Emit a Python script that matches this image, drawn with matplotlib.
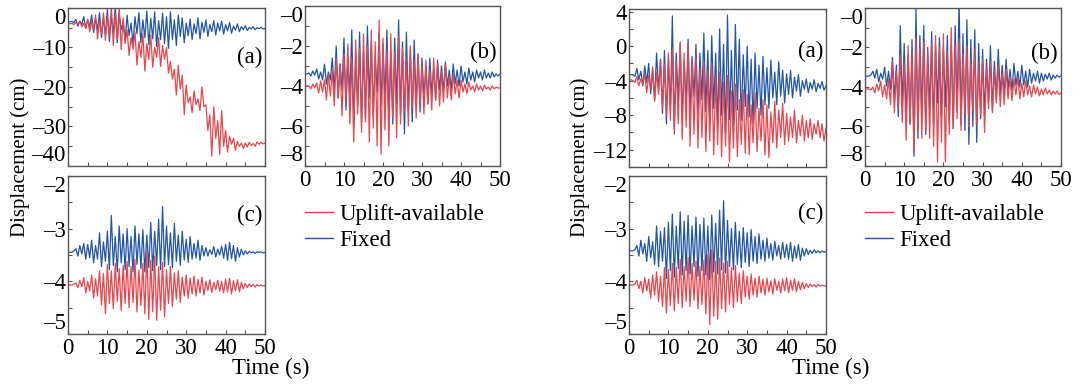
import numpy as np
import matplotlib
matplotlib.use("Agg")
import matplotlib.pyplot as plt
from matplotlib.ticker import MultipleLocator
from matplotlib.lines import Line2D

plt.rcParams['font.family'] = ['Liberation Serif', 'DejaVu Serif']
plt.rcParams['axes.unicode_minus'] = False
plt.rcParams['font.size'] = 16.5

# ---------------- data ----------------
TIME = np.arange(0, 50.25, 0.5)  # sampling grid (s)

SERIES_LABELS = ["Uplift-available", "Fixed"]

# Left group, panel (a)
LA_FIXED = [-3.5,-3.5,-3.4,-3.7,-2.9,-4.6,-3.3,-4.2,-2.2,-5.0,
            -3.0,-4.8,-1.8,-6.2,-2.8,-5.5,-1.2,-7.5,-2.5,-6.8,
            -0.3,-8.5,-2.0,-6.5,0.2,-8.8,-1.5,-5.5,-3.5,-8.2,
            -1.8,-7.0,-3.8,-9.2,-2.2,-6.5,-1.2,-8.8,-3.0,-7.5,
            -0.8,-9.3,-2.6,-7.8,-1.0,-9.8,-3.2,-8.0,-1.3,-9.0,
            -2.2,-10.2,-1.0,-8.0,-3.0,-9.5,-1.8,-7.2,-2.5,-8.8,
            -3.8,-7.0,-2.8,-8.0,-4.0,-6.5,-2.5,-7.8,-3.6,-6.2,
            -3.0,-7.2,-4.2,-6.0,-3.2,-6.8,-3.8,-5.8,-3.3,-6.6,
            -4.2,-5.8,-3.7,-6.4,-4.6,-5.6,-4.0,-6.0,-4.7,-5.5,
            -4.5,-5.7,-4.9,-5.3,-4.7,-5.5,-5.0,-5.2,-4.9,-5.3,
            -5.2]
LA_UPLIFT = [-4.0,-4.0,-3.9,-4.2,-3.7,-4.1,-3.4,-4.8,-3.9,-5.2,
             -2.8,-6.0,-3.5,-5.2,-1.8,-7.8,-3.2,-6.5,-1.2,-8.2,
             -2.0,-7.0,0.5,-9.5,-1.5,-8.0,0.3,-10.5,-2.5,-9.0,
             -5.5,-12.0,-7.5,-10.5,-6.0,-14.5,-8.5,-12.5,-6.5,-16.0,
             -9.0,-13.0,-6.8,-15.0,-10.0,-12.5,-7.5,-14.8,-9.5,-13.0,
             -10.0,-16.5,-13.5,-18.0,-15.5,-22.0,-14.5,-20.5,-17.0,-27.0,
             -19.5,-24.0,-22.5,-26.5,-21.0,-24.5,-23.0,-26.0,-20.0,-25.0,
             -24.5,-31.0,-27.0,-37.5,-25.0,-33.0,-28.5,-37.0,-26.0,-35.0,
             -31.0,-36.5,-32.5,-34.5,-33.0,-36.0,-33.8,-35.0,-34.2,-35.6,
             -34.2,-35.2,-34.0,-34.8,-34.3,-35.0,-33.9,-34.5,-34.0,-34.4,
             -34.2]

# Left group, panel (b)
LB_FIXED = [-3.4,-3.4,-3.35,-3.5,-3.25,-3.45,-3.15,-3.65,-3.3,-3.7,
            -2.9,-3.9,-3.3,-3.7,-2.6,-4.3,-2.0,-4.6,-2.9,-4.2,
            -1.6,-5.2,-2.6,-4.5,-1.2,-6.0,-2.4,-5.0,-1.3,-5.8,
            -2.2,-5.6,-1.0,-4.6,-1.8,-5.4,-2.5,-4.3,-1.4,-5.0,
            -1.9,-4.8,-1.2,-5.6,-2.4,-5.9,-1.6,-4.9,-0.7,-5.4,
            -1.8,-6.4,-1.3,-5.2,-2.2,-5.8,-1.7,-5.0,-2.4,-5.3,
            -2.6,-4.6,-3.0,-4.9,-2.6,-4.4,-3.1,-4.7,-2.7,-4.2,
            -3.0,-4.3,-2.8,-4.0,-3.2,-4.2,-2.9,-3.9,-3.2,-4.0,
            -3.0,-3.8,-3.3,-3.9,-3.1,-3.7,-3.3,-3.8,-3.2,-3.6,
            -3.3,-3.7,-3.2,-3.6,-3.35,-3.6,-3.3,-3.55,-3.4,-3.5,
            -3.4]
LB_UPLIFT = [-4.0,-4.0,-4.0,-4.15,-3.9,-4.1,-3.85,-4.35,-3.75,-4.3,
             -3.7,-4.7,-3.4,-4.5,-3.2,-5.0,-2.6,-4.6,-2.9,-5.5,
             -2.4,-4.8,-1.9,-5.9,-2.6,-6.8,-1.7,-5.4,-2.1,-6.3,
             -1.4,-5.8,-2.0,-6.8,-1.2,-6.1,-1.8,-7.0,-0.7,-7.4,
             -1.6,-6.2,-2.2,-7.0,-1.4,-5.6,-2.3,-6.6,-1.5,-5.9,
             -2.1,-5.3,-2.6,-6.0,-2.0,-5.1,-2.7,-5.6,-2.4,-5.0,
             -3.0,-5.4,-2.7,-4.9,-3.2,-5.2,-2.6,-4.7,-2.9,-5.0,
             -3.3,-4.8,-2.9,-4.6,-3.5,-4.7,-3.4,-4.4,-3.7,-4.6,
             -3.7,-4.3,-3.9,-4.4,-3.8,-4.2,-4.0,-4.3,-3.9,-4.2,
             -4.0,-4.25,-3.95,-4.15,-4.05,-4.2,-4.0,-4.15,-4.05,-4.1,
             -4.1]

# Left group, panel (c)
LC_FIXED = [-3.45,-3.45,-3.45,-3.42,-3.38,-3.52,-3.32,-3.48,-3.28,-3.58,
            -3.30,-3.55,-3.22,-3.65,-3.32,-3.58,-3.08,-3.72,-3.25,-3.62,
            -3.05,-3.78,-2.75,-3.70,-3.15,-3.82,-2.95,-3.65,-3.10,-3.78,
            -3.00,-3.72,-3.15,-3.82,-2.95,-3.68,-3.10,-3.76,-3.02,-3.82,
            -3.12,-3.74,-2.88,-3.80,-3.05,-3.70,-2.82,-3.78,-2.58,-3.72,
            -2.95,-3.68,-3.08,-3.74,-2.90,-3.62,-3.12,-3.70,-3.05,-3.60,
            -3.20,-3.64,-3.15,-3.58,-3.28,-3.56,-3.22,-3.60,-3.32,-3.52,
            -3.36,-3.52,-3.40,-3.49,-3.34,-3.54,-3.39,-3.50,-3.33,-3.56,
            -3.30,-3.60,-3.26,-3.57,-3.32,-3.62,-3.36,-3.54,-3.39,-3.50,
            -3.42,-3.48,-3.43,-3.46,-3.44,-3.47,-3.44,-3.45,-3.44,-3.46,
            -3.45]
LC_UPLIFT = [-4.07,-4.07,-4.07,-4.05,-4.03,-4.12,-3.98,-4.10,-3.93,-4.22,
             -4.00,-4.18,-3.88,-4.32,-3.95,-4.28,-3.80,-4.45,-3.85,-4.62,
             -3.68,-4.42,-3.80,-4.52,-3.66,-4.38,-3.76,-4.55,-3.70,-4.42,
             -3.62,-4.50,-3.72,-4.40,-3.58,-4.58,-3.78,-4.46,-3.66,-4.62,
             -3.42,-4.72,-3.60,-4.58,-3.52,-4.74,-3.72,-4.55,-3.64,-4.68,
             -3.78,-4.42,-3.72,-4.48,-3.84,-4.34,-3.80,-4.40,-3.92,-4.28,
             -3.88,-4.32,-3.94,-4.24,-3.90,-4.28,-3.96,-4.22,-3.92,-4.26,
             -4.00,-4.17,-3.97,-4.21,-4.02,-4.16,-3.98,-4.19,-4.00,-4.22,
             -3.96,-4.20,-3.94,-4.24,-3.99,-4.18,-3.97,-4.20,-4.02,-4.14,
             -4.04,-4.12,-4.05,-4.10,-4.06,-4.11,-4.06,-4.09,-4.07,-4.09,
             -4.08]

# Right group, panel (a)
RA_FIXED = [-3.3,-3.3,-3.3,-3.5,-2.6,-3.9,-2.9,-4.6,-2.3,-4.2,
            -2.0,-5.5,-2.8,-6.2,-0.8,-5.0,-1.5,-7.8,-0.5,-9.0,
            -1.5,-7.5,3.5,-9.6,-0.8,-6.5,0.3,-8.2,-1.8,-6.8,
            0.8,-7.8,-1.2,-5.8,0.2,-8.0,-0.8,-6.2,1.5,-7.6,
            -0.5,-8.8,1.2,-7.2,-0.8,-9.2,2.0,-8.0,0.2,-10.3,
            3.6,-8.5,-0.5,-9.2,2.5,-7.4,0.8,-8.6,-1.0,-7.0,
            0.0,-8.2,-1.5,-9.0,-0.8,-7.2,-2.2,-8.0,-1.2,-6.8,
            -2.5,-7.2,-1.6,-6.0,-3.0,-6.8,-1.8,-5.8,-2.8,-6.6,
            -3.2,-5.6,-2.8,-6.0,-3.6,-5.2,-3.3,-5.8,-4.0,-5.0,
            -3.8,-5.4,-4.2,-5.0,-3.9,-5.3,-4.3,-4.9,-4.1,-5.1,
            -4.6]
RA_UPLIFT = [-3.9,-3.9,-4.0,-4.2,-3.5,-4.6,-3.8,-4.4,-3.2,-5.4,
             -3.4,-5.0,-2.4,-6.4,-3.0,-5.6,-1.6,-7.2,-2.2,-8.0,
             -0.8,-8.6,-0.2,-10.2,-1.8,-9.0,0.5,-10.8,-0.8,-9.4,
             0.3,-11.6,-1.8,-10.2,-0.9,-11.8,-2.6,-10.6,-1.8,-12.2,
             -2.8,-11.0,-2.0,-12.6,-3.6,-11.4,-3.0,-12.8,-4.2,-11.6,
             -3.4,-13.4,-5.2,-11.8,-4.4,-12.8,-6.2,-11.4,-5.0,-12.4,
             -5.6,-12.6,-6.8,-11.2,-5.4,-12.2,-7.2,-11.0,-6.2,-12.6,
             -6.8,-12.9,-7.6,-11.2,-6.4,-11.8,-7.4,-10.6,-6.6,-11.4,
             -7.8,-11.0,-8.2,-10.6,-7.4,-11.2,-8.6,-10.4,-8.0,-11.0,
             -8.6,-10.6,-8.4,-10.8,-9.0,-10.2,-8.6,-10.6,-9.0,-11.0,
             -9.5]

# Right group, panel (b)
RB_FIXED = [-3.45,-3.45,-3.45,-3.4,-3.2,-3.55,-3.1,-3.75,-3.3,-3.6,
            -3.0,-3.95,-3.2,-4.1,-2.5,-4.6,-2.9,-5.5,-0.9,-5.0,
            -1.8,-5.6,-2.4,-5.9,-1.6,-7.5,0.0,-6.6,-1.4,-5.6,
            -0.9,-6.4,-2.0,-5.2,-1.2,-5.9,-1.9,-4.8,-1.5,-5.6,
            -2.0,-5.0,-1.4,-5.8,-1.8,-6.1,-0.9,-5.2,0.4,-5.9,
            -1.3,-6.2,-0.6,-6.9,-1.6,-6.0,-1.1,-6.8,-1.8,-5.6,
            -2.1,-5.4,-2.6,-4.8,-1.9,-5.2,-2.7,-4.6,-2.1,-4.4,
            -2.9,-4.4,-2.6,-4.1,-3.1,-4.2,-2.8,-3.9,-3.2,-4.0,
            -2.9,-3.9,-3.2,-4.0,-3.1,-3.8,-3.3,-3.7,-3.2,-3.8,
            -3.3,-3.7,-3.35,-3.6,-3.3,-3.65,-3.4,-3.55,-3.4,-3.5,
            -3.45]
RB_UPLIFT = [-4.1,-4.1,-4.1,-4.15,-4.0,-4.3,-3.85,-4.2,-3.7,-4.5,
             -3.9,-4.6,-3.6,-4.9,-2.7,-5.3,-3.2,-5.0,-2.4,-5.8,
             -2.8,-6.7,-1.9,-5.8,-2.3,-7.3,-1.5,-6.2,-2.0,-6.6,
             -1.7,-6.2,-2.2,-6.6,-1.8,-7.0,-1.4,-7.8,-2.0,-6.8,
             -1.3,-7.8,-2.2,-6.4,-1.0,-6.1,-1.9,-5.6,-1.6,-6.2,
             -2.3,-5.4,-1.9,-6.0,-2.6,-5.2,-2.1,-5.9,-2.8,-5.4,
             -2.6,-6.3,-3.0,-5.1,-2.7,-5.3,-3.2,-4.8,-2.9,-5.0,
             -3.3,-4.9,-3.1,-4.6,-3.5,-4.7,-3.6,-4.4,-3.5,-4.6,
             -3.8,-4.5,-3.7,-4.4,-3.95,-4.5,-3.9,-4.35,-4.0,-4.45,
             -4.1,-4.4,-4.05,-4.35,-4.15,-4.4,-4.2,-4.35,-4.2,-4.38,
             -4.3]

# Right group, panel (c)
RC_FIXED = [-3.42,-3.42,-3.42,-3.40,-3.32,-3.52,-3.22,-3.48,-3.28,-3.62,
            -3.15,-3.55,-3.25,-3.68,-2.95,-3.72,-3.05,-3.62,-2.98,-3.95,
            -2.88,-3.80,-2.72,-3.92,-2.95,-3.76,-2.68,-3.88,-2.86,-3.80,
            -2.75,-3.86,-2.95,-3.72,-2.78,-3.90,-2.92,-3.80,-2.80,-3.88,
            -2.95,-3.97,-2.74,-3.82,-2.90,-3.86,-2.65,-3.78,-2.47,-3.84,
            -2.84,-3.72,-3.00,-3.78,-2.88,-3.68,-3.05,-3.74,-2.98,-3.64,
            -3.08,-3.72,-3.02,-3.62,-3.15,-3.66,-3.10,-3.58,-3.22,-3.62,
            -3.18,-3.56,-3.28,-3.60,-3.24,-3.52,-3.32,-3.58,-3.26,-3.55,
            -3.30,-3.58,-3.26,-3.62,-3.33,-3.56,-3.30,-3.60,-3.37,-3.52,
            -3.38,-3.49,-3.41,-3.47,-3.40,-3.46,-3.42,-3.46,-3.42,-3.45,
            -3.43]
RC_UPLIFT = [-4.07,-4.07,-4.07,-4.05,-3.98,-4.14,-4.00,-4.22,-3.93,-4.18,
             -3.96,-4.32,-3.88,-4.26,-3.82,-4.38,-3.90,-4.48,-3.74,-4.60,
             -3.78,-4.46,-3.66,-4.56,-3.74,-4.42,-3.58,-4.50,-3.72,-4.38,
             -3.55,-4.48,-3.66,-4.36,-3.62,-4.52,-3.72,-4.44,-3.60,-4.62,
             -3.50,-4.82,-3.40,-4.66,-3.62,-4.72,-3.56,-4.52,-3.66,-4.58,
             -3.62,-4.44,-3.74,-4.50,-3.70,-4.38,-3.84,-4.42,-3.80,-4.30,
             -3.90,-4.34,-3.86,-4.26,-3.94,-4.30,-3.90,-4.22,-3.96,-4.26,
             -3.94,-4.20,-3.99,-4.24,-3.95,-4.17,-4.00,-4.22,-3.96,-4.18,
             -3.93,-4.22,-3.98,-4.17,-3.95,-4.20,-4.00,-4.16,-4.02,-4.14,
             -4.04,-4.12,-4.05,-4.10,-4.06,-4.11,-4.06,-4.09,-4.07,-4.09,
             -4.08]

# tick labels per panel
TICKS_A_LEFT = [-40, -30, -20, -10, 0]
TICKLABELS_A_LEFT = ["\u201340", "\u201330", "\u201320", "\u201310", "0"]
TICKS_B = [-8, -6, -4, -2, 0]
TICKLABELS_B = ["\u20138", "\u20136", "\u20134", "\u20132", "\u20130"]
TICKS_C = [-5, -4, -3, -2]
TICKLABELS_C = ["\u20135", "\u20134", "\u20133", "\u20132"]
TICKS_A_RIGHT = [-12, -8, -4, 0, 4]
TICKLABELS_A_RIGHT = ["\u201312", "\u20138", "\u20134", "0", "4"]
X_TICKS = [0, 10, 20, 30, 40, 50]

RED = '#e8464e'
BLUE = '#2355a5'
SPINE = '#555555'

W, H = 1087, 385
fig = plt.figure(figsize=(W / 100, H / 100), dpi=100)


def px_axes(x0, x1, y0, y1):
    return fig.add_axes([x0 / W, 1 - y1 / H, (x1 - x0) / W, (y1 - y0) / H])


def style(ax, ylim, yticks, ylabels, yminor, label, label_y, show_x):
    ax.set_xlim(0, 50)
    ax.set_ylim(*ylim)
    ax.set_xticks(X_TICKS)
    ax.xaxis.set_minor_locator(MultipleLocator(5))
    ax.set_yticks(yticks)
    ax.set_yticklabels(ylabels)
    ax.yaxis.set_minor_locator(MultipleLocator(yminor))
    ax.tick_params(which='both', direction='in', length=3, width=0.8,
                   color=SPINE, top=False, right=False)
    ax.tick_params(axis='x', pad=3)
    ax.tick_params(axis='y', pad=1.5)
    if show_x:
        ax.set_xticklabels([str(v) for v in X_TICKS])
    else:
        ax.set_xticklabels([])
    for s in ax.spines.values():
        s.set_color(SPINE)
        s.set_linewidth(1.0)
    labs = ax.get_yticklabels()
    if yticks[0] == ylim[0]:
        labs[0].set_va('bottom')
    if yticks[-1] == ylim[1]:
        labs[-1].set_va('top')
    ax.text(0.985, label_y, label, transform=ax.transAxes, ha='right',
            va='center')


def draw(ax, fixed, uplift):
    ax.plot(TIME, fixed, color=BLUE, lw=0.9)
    ax.plot(TIME, uplift, color=RED, lw=0.9)


# ---- left group ----
ax = px_axes(68, 265, 8, 166)
draw(ax, LA_FIXED, LA_UPLIFT)
style(ax, (-40, 0), TICKS_A_LEFT, TICKLABELS_A_LEFT, 5, "(a)", 0.69, False)

ax = px_axes(305, 500, 6, 166)
draw(ax, LB_FIXED, LB_UPLIFT)
style(ax, (-8, 0), TICKS_B, TICKLABELS_B, 1, "(b)", 0.71, True)

ax = px_axes(68, 265, 176, 334)
draw(ax, LC_FIXED, LC_UPLIFT)
style(ax, (-5, -2), TICKS_C, TICKLABELS_C, 0.5, "(c)", 0.75, True)

# ---- right group ----
ax = px_axes(629, 826, 9, 167)
draw(ax, RA_FIXED, RA_UPLIFT)
style(ax, (-14, 4.3), TICKS_A_RIGHT, TICKLABELS_A_RIGHT, 2, "(a)", 0.73, False)

ax = px_axes(865, 1061, 8, 166)
draw(ax, RB_FIXED, RB_UPLIFT)
style(ax, (-8, 0), TICKS_B, TICKLABELS_B, 1, "(b)", 0.71, True)

ax = px_axes(629, 826, 176, 334)
draw(ax, RC_FIXED, RC_UPLIFT)
style(ax, (-5, -2), TICKS_C, TICKLABELS_C, 0.5, "(c)", 0.76, True)

# axis titles
for xc in (20, 580):
    fig.text(xc / W, 1 - 157 / H, "Displacement (cm)", rotation=90,
             ha='center', va='center', fontsize=15)
for xc in (271, 831):
    fig.text(xc / W, 1 - 368 / H, "Time (s)", ha='center', va='center')

# legends
handles = [Line2D([], [], color=RED, lw=1.0), Line2D([], [], color=BLUE, lw=1.0)]
for x0 in (305, 865):
    fig.legend(handles, SERIES_LABELS, loc='upper left',
               bbox_to_anchor=(x0 / W, 1 - 204 / H), frameon=False,
               borderpad=0, borderaxespad=0, handlelength=1.2,
               handletextpad=0.3, labelspacing=0.22)

fig.savefig("out.png", dpi=100)
